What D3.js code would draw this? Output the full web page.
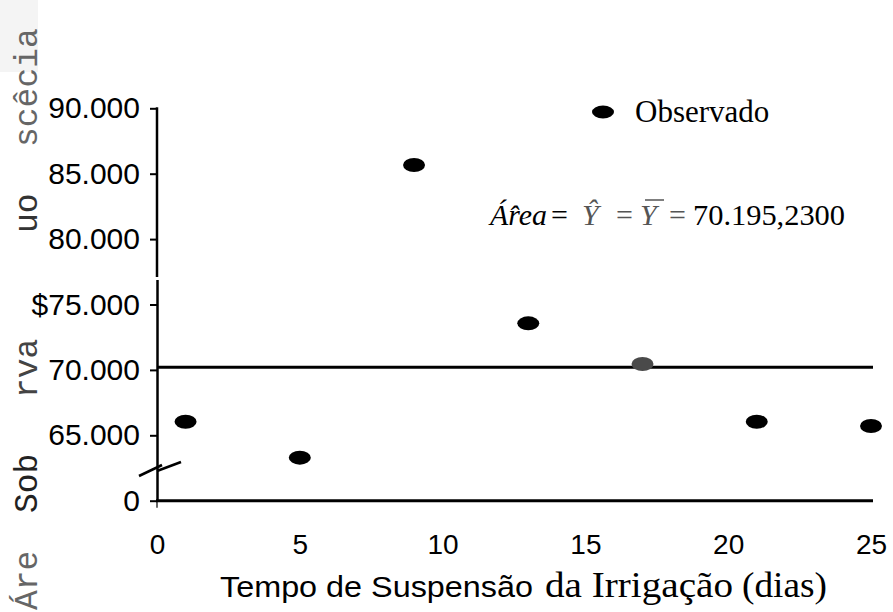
<!DOCTYPE html>
<html>
<head>
<meta charset="utf-8">
<script src="https://cdn.jsdelivr.net/npm/d3@7"></script>
<style>
  html, body { margin: 0; padding: 0; background: #fff; }
  svg { display: block; }
</style>
</head>
<body>
<svg id="chart" width="893" height="612"></svg>
<script>
// ---- data ----
const days = [1, 5, 9, 13, 17, 21, 25];
const areaObserved = [66040, 63290, 85660, 73560, 70450, 66040, 65710];
const meanArea = 70195.23;
const yTickValues = [60000, 65000, 70000, 75000, 80000, 85000, 90000];
const yTickLabels = ["0", "65.000", "70.000", "$75.000", "80.000", "85.000", "90.000"];
const xTickValues = [0, 5, 10, 15, 20, 25];
const xTickLabels = ["0", "5", "10", "15", "20", "25"];
const legendLabel = "Observado";
const yTitlePieces = ["Áre", "Sob", "rva", "uo", "scêcia"];

const svg = d3.select("#chart");
const x = d3.scaleLinear().domain([0, 25]).range([157, 871]);
const y = d3.scaleLinear().domain([60000, 90000]).range([500.7, 108.3]);

// faint box behind top of y title
svg.append("rect").attr("x", 0).attr("y", 0).attr("width", 38).attr("height", 72).attr("fill", "#f4f4f4");

// garbled y title pieces (monospace, rotated)
const pieceBottoms = [610, 513, 398, 233, 147];
const pieceColors = ["#666", "#222", "#444", "#333", "#666"];
yTitlePieces.forEach((p, i) => {
  svg.append("text")
    .attr("transform", `translate(37,${pieceBottoms[i]}) rotate(-90)`)
    .attr("font-family", "'Liberation Mono', 'DejaVu Sans Mono', monospace")
    .attr("font-size", 33)
    .attr("fill", pieceColors[i])
    .text(p);
});

// Y axis
const yAxis = d3.axisLeft(y).tickValues(yTickValues)
  .tickFormat((d, i) => yTickLabels[i]).tickSize(7).tickPadding(10);
const gy = svg.append("g").attr("transform", "translate(157,0)").call(yAxis);
gy.select(".domain").remove();
gy.selectAll(".tick line").attr("stroke", "#000").attr("stroke-width", 2);
gy.selectAll(".tick text")
  .attr("font-family", "'Liberation Sans', Arial, sans-serif")
  .attr("font-size", 30).attr("fill", "#000");
svg.append("line").attr("x1", 157).attr("x2", 157).attr("y1", y(90000) - 1).attr("y2", 277)
  .attr("stroke", "#000").attr("stroke-width", 2.5);
svg.append("line").attr("x1", 157.5).attr("x2", 157.5).attr("y1", 280).attr("y2", y(60000))
  .attr("stroke", "#000").attr("stroke-width", 2.5);

// X axis
const xAxis = d3.axisBottom(x).tickValues(xTickValues)
  .tickFormat((d, i) => xTickLabels[i]).tickSize(0).tickPadding(33);
const gx = svg.append("g").attr("transform", `translate(0,${y(60000)})`).call(xAxis);
gx.select(".domain").remove();
gx.selectAll(".tick text")
  .attr("font-family", "'Liberation Sans', Arial, sans-serif")
  .attr("font-size", 28).attr("fill", "#000");
svg.append("line").attr("x1", 156).attr("x2", 873).attr("y1", y(60000)).attr("y2", y(60000))
  .attr("stroke", "#000").attr("stroke-width", 3);
svg.append("line").attr("x1", x(0)).attr("x2", x(0)).attr("y1", y(60000)).attr("y2", y(60000) + 7)
  .attr("stroke", "#000").attr("stroke-width", 1.2);

// axis break marks
svg.append("line").attr("x1", 139).attr("y1", 476).attr("x2", 162).attr("y2", 465)
  .attr("stroke", "#000").attr("stroke-width", 2.5);
svg.append("line").attr("x1", 157).attr("y1", 471).attr("x2", 181).attr("y2", 462)
  .attr("stroke", "#000").attr("stroke-width", 2.5);

// mean line
svg.append("line").attr("x1", 157).attr("x2", 873).attr("y1", y(meanArea)).attr("y2", y(meanArea))
  .attr("stroke", "#000").attr("stroke-width", 3);

// points
const pts = days.map((d, i) => ({ day: d, area: areaObserved[i] }));
svg.selectAll("ellipse.pt").data(pts).enter().append("ellipse")
  .attr("class", "pt")
  .attr("cx", d => x(d.day)).attr("cy", d => y(d.area))
  .attr("rx", 11).attr("ry", 7)
  .attr("fill", d => d.day === 17 ? "#4a4a4a" : "#000");

// legend
svg.append("ellipse").attr("cx", 603).attr("cy", 112).attr("rx", 11).attr("ry", 6.5).attr("fill", "#000");
svg.append("text").attr("x", 635).attr("y", 122)
  .attr("font-family", "'Liberation Serif', 'Times New Roman', serif")
  .attr("font-size", 31).attr("fill", "#000").text(legendLabel);

// equation
const serif = "'Liberation Serif', 'Times New Roman', serif";
function eq(txt, xx, opts = {}) {
  return svg.append("text").attr("x", xx).attr("y", 225)
    .attr("font-family", serif).attr("font-size", 30)
    .attr("font-style", opts.italic ? "italic" : "normal")
    .attr("fill", opts.fill || "#000").text(txt);
}
eq("Ár\u0302ea", 490, { italic: true }).attr("textLength", 57).attr("lengthAdjust", "spacingAndGlyphs");
eq("=", 551);
eq("\u0176", 582, { italic: true, fill: "#555" });
eq("=", 616, { fill: "#555" });
eq("Y", 640, { italic: true, fill: "#555" });
svg.append("line").attr("x1", 645).attr("x2", 664).attr("y1", 200).attr("y2", 200)
  .attr("stroke", "#555").attr("stroke-width", 1.5);
eq("=", 669, { fill: "#555" });
eq("70.195,2300", 693).attr("textLength", 152).attr("lengthAdjust", "spacingAndGlyphs");

// x axis title
svg.append("text").attr("x", 220).attr("y", 597)
  .attr("font-family", "'Liberation Sans', Arial, sans-serif").attr("font-size", 30)
  .attr("textLength", 313).attr("lengthAdjust", "spacingAndGlyphs")
  .text("Tempo de Suspensão");
svg.append("text").attr("x", 545).attr("y", 597)
  .attr("font-family", serif).attr("font-size", 35)
  .attr("textLength", 188).attr("lengthAdjust", "spacingAndGlyphs")
  .text("da Irrigação");
svg.append("text").attr("x", 742).attr("y", 597)
  .attr("font-family", serif).attr("font-size", 35)
  .attr("textLength", 85).attr("lengthAdjust", "spacingAndGlyphs")
  .text("(dias)");
</script>
</body>
</html>
